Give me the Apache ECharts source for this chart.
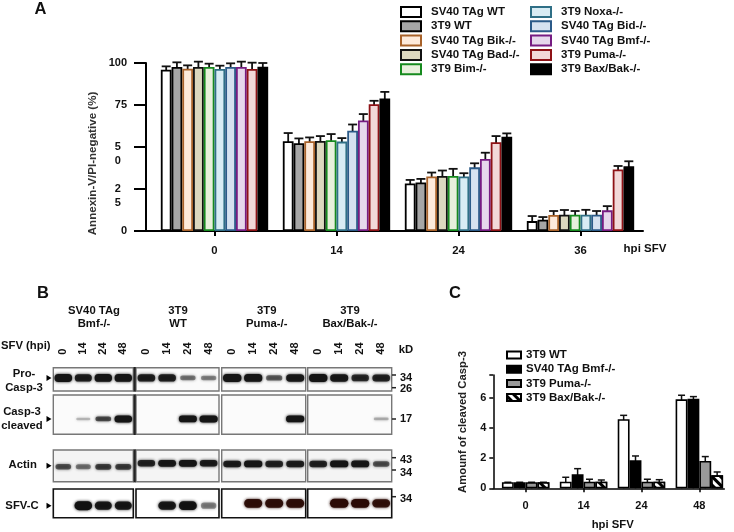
<!DOCTYPE html>
<html><head><meta charset="utf-8">
<style>html,body{margin:0;padding:0;background:#fff}#c{width:734px;height:532px}</style>
<script src="https://cdn.jsdelivr.net/npm/echarts@6/dist/echarts.min.js"></script>
</head><body><div id="c"></div>
<script>
// ---------- Panel A data ----------
const hoursA = ['0','14','24','36'];
const yTicksA = [0,25,50,75,100];
const sv40Wt   = [96,53.4,28.3,5.9];     const sv40WtTop   = [98,58.3,30.4,8.9];
const t3t9Wt   = [97.6,52.2,28.9,6.7];   const t3t9WtTop   = [100.4,55.1,31,8.3];
const sv40Bik  = [96.6,53.4,32.4,9.5];   const sv40BikTop  = [98.6,55.7,34.8,11.9];
const sv40Bad  = [97.6,53.6,32.8,9.7];   const sv40BadTop  = [100.8,56.5,36,12.5];
const t3t9Bim  = [97.6,54,32.8,9.7];     const t3t9BimTop  = [99.6,57.7,37,11.9];
const t3t9Noxa = [96.4,53.2,32.4,9.7];   const t3t9NoxaTop = [98.4,55.3,34.4,12.6];
const sv40Bid  = [97.6,59.7,37.9,9.7];   const sv40BidTop  = [99.8,63.4,40.3,11.9];
const sv40Bmf  = [97.6,65.8,42.9,12.3];  const sv40BmfTop  = [100.8,69.6,46.6,14.8];
const t3t9Puma = [96.4,75.5,52.8,36.6];  const t3t9PumaTop = [100.2,77.5,56.5,38.7];
const t3t9Bax  = [97.8,78.9,56.1,38.5];  const t3t9BaxTop  = [100,82.8,58.1,41.5];
const namesA = ['SV40 TAg WT','3T9 WT','SV40 TAg Bik-/-','SV40 TAg Bad-/-','3T9 Bim-/-','3T9 Noxa-/-','SV40 TAg Bid-/-','SV40 TAg Bmf-/-','3T9 Puma-/-','3T9 Bax/Bak-/-'];
// ---------- Panel C data ----------
const hoursC = ['0','14','24','48'];
const yTicksC = [0,2,4,6];
const cWt   = [0.4,0.44,4.57,5.89];  const cWtTop   = [0.4,0.73,4.83,6.16];
const cBmf  = [0.4,0.93,1.85,5.92];  const cBmfTop  = [0.4,1.3,2.14,6.07];
const cPuma = [0.4,0.44,0.44,1.81];  const cPumaTop = [0.4,0.6,0.6,2.1];
const cBax  = [0.4,0.44,0.44,0.86];  const cBaxTop  = [0.4,0.55,0.57,1.08];
const namesC = ['3T9 WT ','SV40 TAg Bmf-/- ','3T9 Puma-/- ','3T9 Bax/Bak-/- '];
// ---------- Panel B band strengths (lanes 0,14,24,48 in each of four blots) ----------
const lanes = ['0','14','24','48'];
const proCasp = [[1,.85,.95,.95],[.85,.85,.35,.3],[1,.95,.45,.9],[1,.9,.75,.8]];
const casp = [[0,.12,.55,1],[0,0,.95,1],[0,0,0,.95],[0,0,0,.15]];
const actin = [[.5,.35,.6,.6],[.8,.9,.95,.85],[.85,.95,.8,.85],[.8,.95,.9,.5]];
const sfvC = [[0,1,.85,.85],[0,.85,.9,.3],[0,.9,.9,.9],[0,1,.95,.85]];

// ---------- styles ----------
const FONT = '"Liberation Sans", Arial, sans-serif';
const fillsA = ['#ffffff','#a6a6a6','#fdeadb','#dcd8bf','#e8f0dc','#d8ecf4','#d6e2f0','#e6d8ec','#f2d8d8','#000000'];
const edgesA = ['#000000','#000000','#a8622a','#111111','#168a1e','#2f6f86','#2b5a88','#761c82','#8e1216','#000000'];
const valuesA = [sv40Wt,t3t9Wt,sv40Bik,sv40Bad,t3t9Bim,t3t9Noxa,sv40Bid,sv40Bmf,t3t9Puma,t3t9Bax];
const topsA = [sv40WtTop,t3t9WtTop,sv40BikTop,sv40BadTop,t3t9BimTop,t3t9NoxaTop,sv40BidTop,sv40BmfTop,t3t9PumaTop,t3t9BaxTop];
const valuesC = [cWt,cBmf,cPuma,cBax];
const topsC = [cWtTop,cBmfTop,cPumaTop,cBaxTop];
const hatch = {symbol:'rect',symbolSize:1,dashArrayX:[1,0],dashArrayY:[3,3],rotation:Math.PI/4,color:'#000',backgroundColor:'#fff'};
const stylesC = [
  {color:'#fff',borderColor:'#000'},
  {color:'#000',borderColor:'#000'},
  {color:'#999',borderColor:'#000'},
  {color:'#fff',borderColor:'#000',decal:hatch}
];

function errSeries(xi,yi,tops,si,n,gapFrac,capW,lw){
  return {type:'custom',xAxisIndex:xi,yAxisIndex:yi,clip:false,z:1,silent:true,
    data:tops.map((t,i)=>[i,t]),
    renderItem(p,api){
      const band=api.size([1,0])[0], w=band*(1-gapFrac)/n;
      const x=api.coord([api.value(0),0])[0]-band*(1-gapFrac)/2+w*(si+.5);
      const y0=api.coord([api.value(0),0])[1], y=api.coord([api.value(0),api.value(1)])[1];
      const st={stroke:'#111',lineWidth:lw,fill:'none'};
      return {type:'group',children:[
        {type:'line',shape:{x1:x,y1:y0,x2:x,y2:y},style:st},
        {type:'line',shape:{x1:x-capW/2,y1:y,x2:x+capW/2,y2:y},style:st}]};
    }};
}

const grids=[
 {left:146,top:63,width:497,height:168},
 {left:153.5,top:63,width:488,height:168},
 {left:493.3,top:375,width:231,height:113.3},
 {left:496.7,top:375,width:231.6,height:113.3}
];
const blackLine=(w)=>({show:true,onZero:false,lineStyle:{color:'#000',width:w}});
const lbl=(s,extra)=>Object.assign({fontFamily:FONT,fontWeight:'bold',fontSize:s,color:'#111'},extra||{});
const xAxes=[
 {gridIndex:0,type:'value',min:0,max:1,axisLine:blackLine(2),axisTick:{show:false},axisLabel:{show:false},splitLine:{show:false}},
 {gridIndex:1,type:'category',data:hoursA,axisLine:{show:false},axisTick:{show:true,alignWithLabel:true,length:5,lineStyle:{color:'#000',width:2}},axisLabel:lbl(11.3,{margin:14})},
 {gridIndex:2,type:'value',min:0,max:1,axisLine:blackLine(1.5),axisTick:{show:false},axisLabel:{show:false},splitLine:{show:false}},
 {gridIndex:3,type:'category',data:hoursC,axisLine:{show:false},axisTick:{show:true,alignWithLabel:true,length:4,lineStyle:{color:'#000',width:1.5}},axisLabel:lbl(11,{margin:12.5})}
];
const yAxes=[
 {gridIndex:0,type:'value',min:0,max:100,interval:25,axisLine:blackLine(2),axisTick:{show:true,length:12,lineStyle:{color:'#000',width:2}},splitLine:{show:false},
  axisLabel:lbl(11,{margin:19,lineHeight:14,formatter:v=>{const s=String(yTicksA[yTicksA.indexOf(v)]);return (v===25||v===50)?('\n'+s[0]+'  \n'+s[1]+'  '):s;}})},
 {gridIndex:1,type:'value',min:0,max:100,show:false},
 {gridIndex:2,type:'value',min:0,max:7.5,interval:2,axisLine:blackLine(1.5),axisTick:{show:true,length:4,lineStyle:{color:'#000',width:1.5}},splitLine:{show:false},
  axisLabel:lbl(11,{margin:7,formatter:v=>yTicksC.includes(v)?String(v):''})},
 {gridIndex:3,type:'value',min:0,max:7.5,show:false}
];
const series=[];
const GAP_A=.12,GAP_C=.18;
valuesA.forEach((v,i)=>{
  series.push({type:'bar',name:namesA[i],xAxisIndex:1,yAxisIndex:1,data:v,barGap:0,barCategoryGap:(GAP_A*100)+'%',z:2,
    itemStyle:{color:fillsA[i],borderColor:edgesA[i],borderWidth:1.8}});
  series.push(errSeries(1,1,topsA[i],i,10,GAP_A,9,1.8));
});
valuesC.forEach((v,i)=>{
  series.push({type:'bar',name:namesC[i],xAxisIndex:3,yAxisIndex:3,data:v,barGap:0,barCategoryGap:(GAP_C*100)+'%',z:2,
    itemStyle:Object.assign({borderWidth:1.6},stylesC[i])});
  series.push(errSeries(3,3,topsC[i],i,4,GAP_C,7,1.5));
});

// ---------- blots ----------
const blotRows=[
 {d:proCasp,top:367.7,h:23.3,c:[.56,.56,.56,.56],thick:[3,8],border:'#777',bw:1.4,bg:'#fafafa'},
 {d:casp,top:395,h:39.3,c:[.39,.39,.39,.39],thick:[2,7],border:'#777',bw:1.4,bg:'#fbfbfb'},
 {d:actin,top:450,h:31.7,c:[.47,.58,.56,.56],thick:[4,7],border:'#777',bw:1.4,bg:'#f4f4f4'},
 {d:sfvC,top:489,h:28.7,c:[.42,.42,.5,.5],thick:[5,9],border:'#111',bw:1.6,bg:'#ffffff'}
];
const blotCols=[{l:53.3,w:80},{l:136,w:83},{l:221.7,w:84},{l:307.7,w:84}];
const inks=[['#151515','#151515','#151515','#151515'],['#151515','#151515','#151515','#151515'],['#151515','#151515','#151515','#151515'],['#111','#111','#2b0b06','#2b0b06']];
blotRows.forEach((r,ri)=>blotCols.forEach((col,ci)=>{
  const gi=grids.length;
  grids.push({show:true,left:col.l,top:r.top,width:col.w,height:r.h,backgroundColor:r.bg,borderColor:r.border,borderWidth:r.bw});
  const isTop=ri===0;
  xAxes.push({gridIndex:gi,type:'category',data:lanes,position:'top',axisLine:{show:false},axisTick:{show:false},
    axisLabel:isTop?lbl(11,{rotate:90,margin:13}):{show:false}});
  yAxes.push({gridIndex:gi,type:'value',min:0,max:1,show:false});
  const ink=inks[ri][ci], cy=r.c[ci], th=r.thick;
  series.push({type:'custom',xAxisIndex:gi,yAxisIndex:gi,silent:true,clip:true,
    data:r.d[ci].map((s,i)=>[i,s]),
    renderItem(p,api){
      const s=api.value(1); if(!s) return null;
      const band=api.size([1,0])[0], pt=api.coord([api.value(0),cy]);
      const w=band*(.68+.2*s), h=th[0]+(th[1]-th[0])*s;
      return {type:'rect',shape:{x:pt[0]-w/2,y:pt[1]-h/2,width:w,height:h,r:h/2},
        style:{fill:ink,opacity:Math.min(1,.1+.95*s),shadowBlur:3,shadowColor:ink}};
    }});
}));

// ---------- free text ----------
const T=(text,x,y,size,align,lh,color)=>({type:'text',silent:true,style:{text,x,y,fill:color||'#111',fontFamily:FONT,fontWeight:'bold',fontSize:size,align:align||'center',verticalAlign:'middle',lineHeight:lh||undefined}});
const R=(text,x,y,size,color)=>({type:'text',silent:true,x,y,rotation:Math.PI/2,style:{text,x:0,y:0,fill:color||'#111',fontFamily:FONT,fontWeight:'bold',fontSize:size,align:'center',verticalAlign:'middle'}});
const tri=(x,y)=>({type:'polygon',silent:true,shape:{points:[[x-2.5,y-3],[x+2.5,y],[x-2.5,y+3]]},style:{fill:'#000'}});
const dash=(y)=>({type:'line',silent:true,shape:{x1:392,y1:y,x2:396,y2:y},style:{stroke:'#222',lineWidth:1.5}});
const divider=(y1,y2)=>({type:'line',silent:true,z:10,shape:{x1:134.7,y1,x2:134.7,y2},style:{stroke:'#222',lineWidth:2.2}});
const graphic=[
 T('A',40.5,9,16.5),T('B',43,293,16.5),T('C',455,293,16.5),
 T('hpi SFV',645,249,11.5),
 T('hpi SFV',612.7,525,11.3),
 R('Annexin-V/PI-negative (%)',93,163.5,11.6,'#333'),
 R('Amounf of cleaved Casp-3',463,422,11.3,'#222'),
 T('SV40 TAg\nBmf-/-',94,317.5,11.3,'center',13.5),
 T('3T9\nWT',178,317.5,11.3,'center',13.5),
 T('3T9\nPuma-/-',266.7,317.5,11.3,'center',13.5),
 T('3T9\nBax/Bak-/-',350,317.5,11.3,'center',13.5),
 T('SFV (hpi)',1,346,11.3,'left'),
 T('kD',406,350,11.3),
 T('Pro-\nCasp-3',24,381,11.3,'center',13.7),
 T('Casp-3\ncleaved',22,418.7,11.3,'center',14),
 T('Actin',22.7,465,11.3),
 T('SFV-C',22,505.7,11.3),
 T('34',400,377.7,11,'left'),T('26',400,389,11,'left'),T('17',400,419,11,'left'),
 T('43',400,460,11,'left'),T('34',400,472.7,11,'left'),T('34',400,499,11,'left'),
 tri(49,378),tri(49,419),tri(49,465.7),tri(49,505.7),
 dash(375),dash(387.7),dash(419),dash(457.7),dash(470),dash(496.7),
 divider(367,391.7),divider(394.3,435),divider(449.3,482.4)
];

const legendBase=(data,left,top,w,h,gap,size,pad,padTop)=>({data,orient:'vertical',left,top,padding:0,itemWidth:w,itemHeight:h,itemGap:gap,icon:'rect',selectedMode:false,
  textStyle:lbl(size,{lineHeight:11,padding:[padTop,0,0,pad]})});

const chart=echarts.init(document.getElementById('c'),null,{renderer:'canvas'});
chart.setOption({
  animation:false,backgroundColor:'#fff',
  grid:grids,xAxis:xAxes,yAxis:yAxes,series,graphic,
  legend:[
    legendBase(namesA.slice(0,5),400,5,20,10,0.3,11.5,5,3),
    legendBase(namesA.slice(5),530,5,20,10,0.3,11.5,5,3),
    legendBase(namesC,506,349,14,7,2.2,11.5,0,0)
  ]
});
</script></body></html>
